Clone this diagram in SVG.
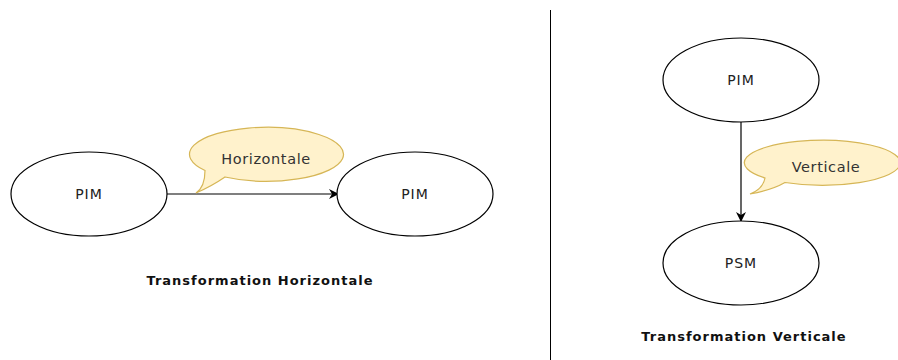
<svg xmlns="http://www.w3.org/2000/svg" width="898" height="360" viewBox="0 0 898 360">
  <defs>
    <marker id="arrow" viewBox="0 0 10 10" refX="9" refY="5" markerWidth="10" markerHeight="10" markerUnits="userSpaceOnUse" orient="auto">
      <path d="M0,0 L10,5 L0,10 L3,5 Z" fill="#000"/>
    </marker>
    <style>
      .node { fill: #fff; stroke: #000; stroke-width: 1.2; }
      .label { font-family: "DejaVu Sans", "Liberation Sans", sans-serif; font-size: 14px; letter-spacing: 1px; fill: #222; text-anchor: middle; }
      .callout { fill: #fff2cc; stroke: #d6b656; stroke-width: 1.2; }
      .ctext { font-family: "DejaVu Sans", "Liberation Sans", sans-serif; font-size: 14.5px; letter-spacing: 0.6px; fill: #333; text-anchor: middle; }
      .title { font-family: "DejaVu Sans", "Liberation Sans", sans-serif; font-size: 13px; letter-spacing: 1px; font-weight: bold; fill: #111; text-anchor: middle; }
      .edge { stroke: #000; stroke-width: 1.2; fill: none; marker-end: url(#arrow); }
    </style>
  </defs>
  <rect width="898" height="360" fill="#fff"/>

  <!-- divider between the two panels -->
  <line x1="550.5" y1="10" x2="550.5" y2="360" stroke="#000" stroke-width="1"/>

  <!-- connectors -->
  <g id="connectors">
    <line class="edge" x1="167" y1="194" x2="338" y2="194"/>
    <line class="edge" x1="741" y1="122" x2="741" y2="221"/>
  </g>

  <!-- horizontal transformation -->
  <g id="pim-left">
    <ellipse class="node" cx="89" cy="194" rx="78" ry="42"/>
    <text class="label" x="89" y="199">PIM</text>
  </g>
  <g id="pim-right">
    <ellipse class="node" cx="415" cy="194" rx="78" ry="42"/>
    <text class="label" x="415" y="199">PIM</text>
  </g>
  <g id="callout-horizontale">
    <path class="callout" d="M225,177 A77,27 0 1 0 205,170.5 Q205,187 196,193 Q212,186 225,177 Z"/>
    <text class="ctext" x="266" y="164">Horizontale</text>
  </g>
  <text class="title" x="260" y="285">Transformation Horizontale</text>

  <!-- vertical transformation -->
  <g id="pim-top">
    <ellipse class="node" cx="741" cy="80" rx="78" ry="42"/>
    <text class="label" x="741" y="85">PIM</text>
  </g>
  <g id="psm-bottom">
    <ellipse class="node" cx="741" cy="263" rx="78" ry="42"/>
    <text class="label" x="741" y="268">PSM</text>
  </g>
  <g id="callout-verticale">
    <path class="callout" d="M785,182.5 A78,22.5 0 1 0 765,178 Q763,189 750,194 Q772,190 785,182.5 Z"/>
    <text class="ctext" x="826" y="172">Verticale</text>
  </g>
  <text class="title" x="744" y="341">Transformation Verticale</text>
</svg>
